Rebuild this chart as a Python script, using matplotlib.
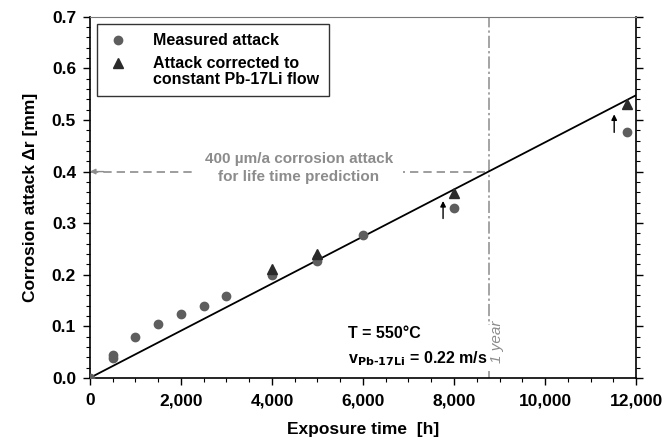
import matplotlib
matplotlib.use("Agg")
from matplotlib import pyplot as plt
from matplotlib.legend_handler import HandlerLine2D
import matplotlib.ticker as ticker

plt.rcParams['font.family'] = ['Liberation Sans', 'DejaVu Sans']
plt.rcParams['font.weight'] = 'bold'
plt.rcParams['axes.labelweight'] = 'bold'

# measured corrosion attack
t_meas = [0, 500, 500, 1000, 1500, 2000, 2500, 3000, 4000, 5000, 5000, 6000, 8000, 11800]
r_meas = [0.0, 0.038, 0.045, 0.080, 0.105, 0.124, 0.139, 0.158, 0.200, 0.227, 0.232, 0.277, 0.329, 0.476]

# attack corrected to constant flow
t_corr = [4000, 5000, 8000, 11800]
r_corr = [0.211, 0.240, 0.359, 0.531]

# linear fit through 400 um/a
t_fit = [0, 12000]
r_fit = [0.0, 0.548]

one_year = 8760
life_limit = 0.4

gray = '#8c8c8c'

fig = plt.figure(figsize=(6.66, 4.44), dpi=100)
ax = fig.add_axes([0.135, 0.149, 0.820, 0.813])

ax.plot(t_fit, r_fit, color='black', lw=1.3, zorder=2)
meas, = ax.plot(t_meas, r_meas, 'o', color='#5e5e5e', ms=6, zorder=3, label='Measured attack')
corr, = ax.plot(t_corr, r_corr, '^', color='#2b2b2b', ms=7.5, zorder=4,
                label='Attack corrected to\nconstant Pb-17Li flow')

# arrows to the corrected points
for tx, y0, y1 in [(7760, 0.309, 0.343), (11520, 0.476, 0.511)]:
    ax.annotate('', xy=(tx, y1), xytext=(tx, y0),
                arrowprops=dict(arrowstyle='-|>', color='black', lw=1, mutation_scale=8,
                                shrinkA=0, shrinkB=0))

# one year line
ax.axvline(one_year, color=gray, lw=1.1, ls=(0, (8, 2, 1.5, 2)), zorder=1)
ax.text(one_year + 190, 0.028, '1 year', rotation=90, ha='center', va='bottom',
        color=gray, fontsize=11, fontstyle='italic', fontweight='normal')

# life time prediction level
ax.plot([0, one_year], [life_limit, life_limit], color=gray, lw=1.2, ls=(0, (5, 3)), zorder=1)
ax.annotate('', xy=(0, life_limit), xytext=(300, life_limit),
            arrowprops=dict(arrowstyle='-|>', color=gray, lw=1, mutation_scale=8,
                            shrinkA=0, shrinkB=0))
ax.text(4590, 0.407, '400 µm/a corrosion attack\nfor life time prediction', ha='center', va='center',
        color=gray, fontsize=11, linespacing=1.3,
        bbox=dict(facecolor='white', edgecolor='none', pad=7))

ax.text(5670, 0.060, 'T = 550°C\n' + r'v$_{\mathbf{Pb\text{-}17Li}}$ = 0.22 m/s', ha='left', va='center',
        fontsize=11.5, linespacing=1.6,
        bbox=dict(facecolor='white', edgecolor='none', pad=2))


class HandlerUp(HandlerLine2D):
    # put the marker beside the first line of a two-line label
    def create_artists(self, legend, orig_handle, xdescent, ydescent, width, height, fontsize, trans):
        return super().create_artists(legend, orig_handle, xdescent, ydescent - fontsize * 1.1,
                                      width, height, fontsize, trans)


leg = ax.legend(loc='upper left', bbox_to_anchor=(0.013, 0.981), borderaxespad=0,
                fontsize=11.5, frameon=True, fancybox=False, edgecolor='black',
                handlelength=1.4, handletextpad=1.5, labelspacing=0.5, borderpad=0.6,
                handler_map={corr: HandlerUp()})
leg.get_frame().set_linewidth(1.0)
leg.get_texts()[1].set_linespacing(1.05)

ax.set_xlim(0, 12000)
ax.set_ylim(0, 0.7)
ax.xaxis.set_major_locator(ticker.MultipleLocator(2000))
ax.xaxis.set_minor_locator(ticker.MultipleLocator(500))
ax.xaxis.set_major_formatter(ticker.FuncFormatter(lambda v, p: f'{int(v):,}'))
ax.yaxis.set_major_locator(ticker.MultipleLocator(0.1))
ax.yaxis.set_minor_locator(ticker.MultipleLocator(0.02))
ax.yaxis.set_major_formatter(ticker.FormatStrFormatter('%.1f'))

ax.tick_params(which='both', direction='out', right=True, top=False, labelsize=12.5)
ax.tick_params(which='major', length=5, width=1)
ax.tick_params(which='minor', length=3, width=0.8)
ax.tick_params(axis='x', pad=6)
ax.tick_params(axis='y', pad=5)

for s in ['left', 'bottom', 'right']:
    ax.spines[s].set_linewidth(1.2)
ax.spines['top'].set_color('#777777')

ax.set_xlabel('Exposure time  [h]', fontsize=12.5, labelpad=10)
ax.set_ylabel('Corrosion attack Δr [mm]', fontsize=12.5, labelpad=10)

fig.savefig('out.png', dpi=100)
